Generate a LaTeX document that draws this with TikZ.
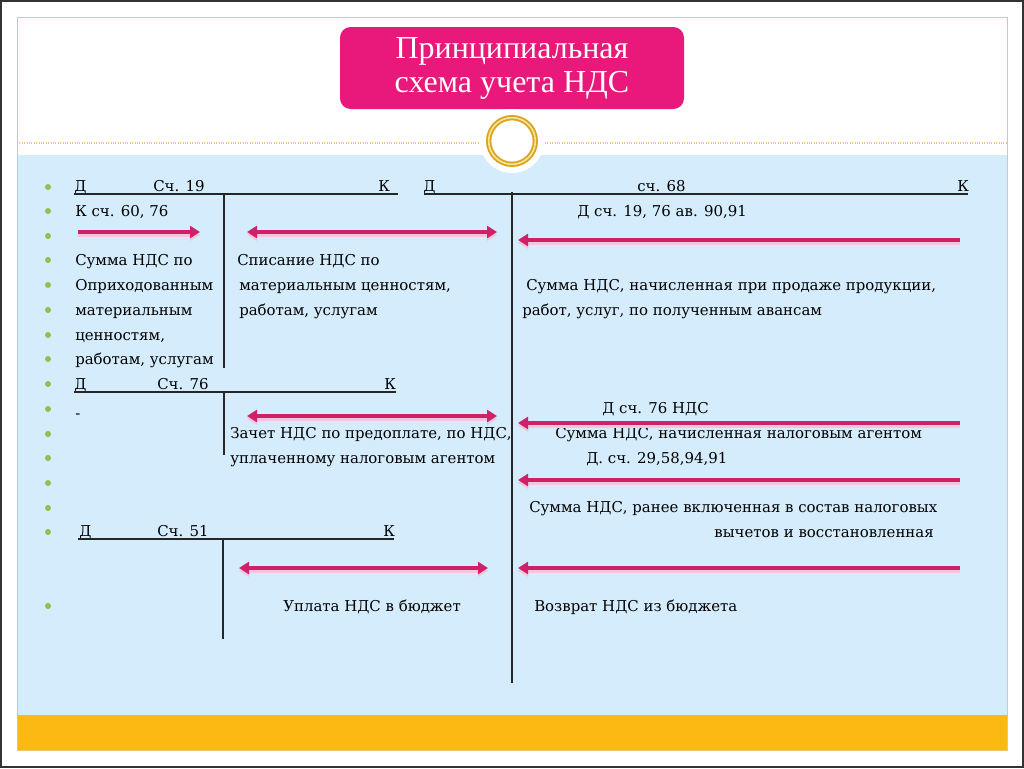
\documentclass[tikz,border=0pt]{standalone}
\usepackage{fontspec}
\setmainfont{DejaVu Serif}
\newfontfamily\titlefont{Liberation Serif}
\usetikzlibrary{positioning,arrows.meta}

\definecolor{panelblue}{HTML}{D4ECFB}
\definecolor{bandorange}{HTML}{FBB911}
\definecolor{framegold}{HTML}{E6C77A}
\definecolor{ringgold}{HTML}{D9A520}
\definecolor{ringlight}{HTML}{F6E39A}
\definecolor{titlepink}{HTML}{E8197A}
\definecolor{arrowpink}{HTML}{CF2169}
\definecolor{bulletgreen}{HTML}{8CC152}

\tikzset{
  txt/.style={anchor=base west, inner sep=0pt, font=\fontsize{11.2}{13}\selectfont},
  bullet/.style={circle, fill=bulletgreen, inner sep=0pt, minimum size=4.5pt},
  acct/.style={line width=0.8pt, draw=black!85},
  flow/.style={line width=3pt, draw=arrowpink, -{Triangle[length=7.5pt,width=9pt]},
    preaction={draw=arrowpink!25, line width=3pt, transform canvas={yshift=-2pt}}},
  flowboth/.style={flow, {Triangle[length=7.5pt,width=9pt]}-{Triangle[length=7.5pt,width=9pt]}}
}

\begin{document}
\begin{tikzpicture}[x=0.75pt, y=-0.75pt]
\useasboundingbox (0,0) rectangle (1024,768);

% slide background
\fill[white] (0,0) rectangle (1024,768);
\fill[panelblue] (17,155) rectangle (1007,715);
\fill[bandorange] (17,715) rectangle (1007,750);
\draw[framegold, line width=0.6pt] (17,17) rectangle (1007,750);
\draw[black!80, line width=1.5pt] (1,1) rectangle (1023,767);
\draw[framegold, densely dotted, line width=0.8pt] (17,143) -- (1007,143);

\node[fill=titlepink, rounded corners=8pt, minimum width=258pt, minimum height=61.5pt,
      text=white, align=center, font=\titlefont\fontsize{24}{25.5}\selectfont]
      (title) at (512,68) {Принципиальная\\схема учета НДС};

\fill[white] (512,141) circle (24pt);
\draw[ringgold, line width=4pt] (512,141) circle (17.5pt);
\draw[ringlight, line width=1.2pt] (512,141) circle (17.5pt);

\foreach \y in {187,211,236,260,285,310,335,359,384,409,434,458,483,508,532,606}
  \node[bullet] (b\y) at (48,\y) {};

% account 19
\node[txt] (d19) at (74,191) {Д};
\node[txt] (n19) at (153,191) {Сч. 19};
\node[txt] (k19) at (378,191) {К};
\coordinate (l19a) at (74,194);
\coordinate (l19b) at (398,194);
\coordinate (v19a) at (224,194);
\coordinate (v19b) at (224,368);
\draw[acct] (l19a) -- (l19b);
\draw[acct] (v19a) -- (v19b);

\node[txt] (src19) at (75,216) {К сч. 60, 76};
\node[txt] (t19a) at (75,265) {Сумма НДС по};
\node[txt] (t19b) at (75,290) {Оприходованным};
\node[txt] (t19c) at (75,315) {материальным};
\node[txt] (t19d) at (75,340) {ценностям,};
\node[txt] (t19e) at (75,364) {работам, услугам};

\node[txt] (w19a) at (237,265) {Списание НДС по};
\node[txt] (w19b) at (239,290) {материальным ценностям,};
\node[txt] (w19c) at (239,315) {работам, услугам};

% account 68
\node[txt] (d68) at (423,191) {Д};
\node[txt] (n68) at (637,191) {сч. 68};
\node[txt] (k68) at (957,191) {К};
\coordinate (l68a) at (424,194);
\coordinate (l68b) at (968,194);
\coordinate (v68a) at (512,192);
\coordinate (v68b) at (512,683);
\draw[acct] (l68a) -- (l68b);
\draw[acct] (v68a) -- (v68b);

\node[txt] (src68) at (577,216) {Д сч. 19, 76 ав. 90,91};
\node[txt] (s68a) at (526,290) {Сумма НДС, начисленная при продаже продукции,};
\node[txt] (s68b) at (522,315) {работ, услуг, по полученным авансам};
\node[txt] (src76) at (602,413) {Д сч. 76 НДС};
\node[txt] (s68c) at (555,438) {Сумма НДС, начисленная налоговым агентом};
\node[txt] (src29) at (586,463) {Д. сч. 29,58,94,91};
\node[txt] (s68d) at (529,512) {Сумма НДС, ранее включенная в состав налоговых};
\node[txt, anchor=base east] (s68e) at (934,537) {вычетов и восстановленная};
\node[txt] (s68f) at (534,611) {Возврат НДС из бюджета};

% account 76
\node[txt] (d76) at (74,389) {Д};
\node[txt] (n76) at (157,389) {Сч. 76};
\node[txt] (k76) at (384,389) {К};
\coordinate (l76a) at (74,392);
\coordinate (l76b) at (396,392);
\coordinate (v76a) at (224,392);
\coordinate (v76b) at (224,455);
\draw[acct] (l76a) -- (l76b);
\draw[acct] (v76a) -- (v76b);

\node[txt] (dash76) at (75,418) {-};
\node[txt] (w76a) at (230,438) {Зачет НДС по предоплате, по НДС,};
\node[txt] (w76b) at (230,463) {уплаченному налоговым агентом};

% account 51
\node[txt] (d51) at (79,536) {Д};
\node[txt] (n51) at (157,536) {Сч. 51};
\node[txt] (k51) at (383,536) {К};
\coordinate (l51a) at (78,539);
\coordinate (l51b) at (394,539);
\coordinate (v51a) at (223,539);
\coordinate (v51b) at (223,639);
\draw[acct] (l51a) -- (l51b);
\draw[acct] (v51a) -- (v51b);

\node[txt] (w51) at (283,611) {Уплата НДС в бюджет};

% arrows
\coordinate (a1s) at (78,232);   \coordinate (a1e) at (200,232);
\coordinate (a2s) at (247,232);  \coordinate (a2e) at (497,232);
\coordinate (a3s) at (960,240);  \coordinate (a3e) at (518,240);
\coordinate (a4s) at (247,416);  \coordinate (a4e) at (497,416);
\coordinate (a5s) at (960,423);  \coordinate (a5e) at (518,423);
\coordinate (a6s) at (960,480);  \coordinate (a6e) at (518,480);
\coordinate (a7s) at (239,568);  \coordinate (a7e) at (488,568);
\coordinate (a8s) at (960,568);  \coordinate (a8e) at (518,568);

\path
(a1s) edge[flow] (a1e)
(a3s) edge[flow] (a3e)
(a5s) edge[flow] (a5e)
(a6s) edge[flow] (a6e)
(a8s) edge[flow] (a8e);

\path
(a2s) edge[flowboth] (a2e)
(a4s) edge[flowboth] (a4e)
(a7s) edge[flowboth] (a7e);

\end{tikzpicture}
\end{document}
